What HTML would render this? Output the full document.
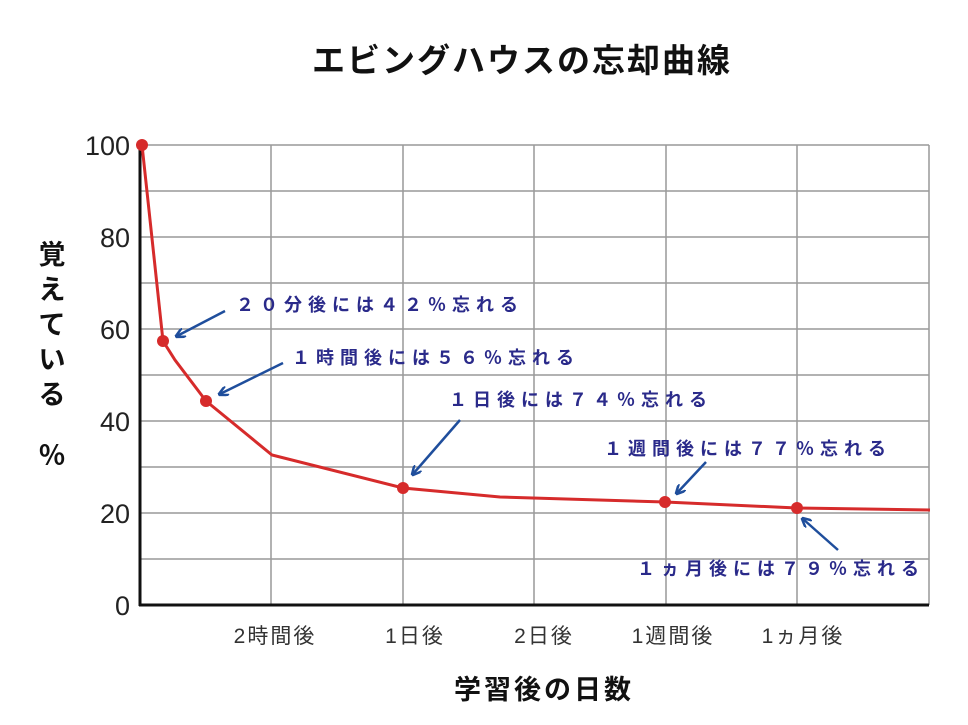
<!DOCTYPE html>
<html><head><meta charset="utf-8"><style>
body{margin:0;background:#fff;width:968px;height:720px;overflow:hidden}
svg text{font-family:"Liberation Sans","Noto Sans CJK JP",sans-serif}
</style></head><body>
<svg width="968" height="720" xmlns="http://www.w3.org/2000/svg">
<text x="522" y="72" font-size="33" font-weight="bold" text-anchor="middle" letter-spacing="2" fill="#111">エビングハウスの忘却曲線</text>
<g stroke="#999" stroke-width="1.5">
<line x1="140" y1="145" x2="929" y2="145"/><line x1="140" y1="191" x2="929" y2="191"/>
<line x1="140" y1="237" x2="929" y2="237"/><line x1="140" y1="283" x2="929" y2="283"/>
<line x1="140" y1="329" x2="929" y2="329"/><line x1="140" y1="375" x2="929" y2="375"/>
<line x1="140" y1="421" x2="929" y2="421"/><line x1="140" y1="467" x2="929" y2="467"/>
<line x1="140" y1="513" x2="929" y2="513"/><line x1="140" y1="559" x2="929" y2="559"/>
<line x1="271" y1="145" x2="271" y2="605"/><line x1="403" y1="145" x2="403" y2="605"/>
<line x1="534" y1="145" x2="534" y2="605"/><line x1="666" y1="145" x2="666" y2="605"/>
<line x1="797" y1="145" x2="797" y2="605"/><line x1="929" y1="145" x2="929" y2="605"/>
</g>
<line x1="140" y1="145" x2="140" y2="606" stroke="#111" stroke-width="3"/>
<line x1="139" y1="605" x2="929" y2="605" stroke="#111" stroke-width="3"/>
<g font-size="27" fill="#222" text-anchor="end">
<text x="130" y="155">100</text><text x="130" y="247">80</text><text x="130" y="339">60</text>
<text x="130" y="431">40</text><text x="130" y="523">20</text><text x="130" y="615">0</text>
</g>
<g font-size="21" fill="#333" text-anchor="middle" letter-spacing="2">
<text x="275" y="643">2時間後</text><text x="415" y="643">1日後</text><text x="544" y="643">2日後</text>
<text x="673" y="643">1週間後</text><text x="803" y="643">1ヵ月後</text>
</g>
<text x="544" y="699" font-size="27" font-weight="bold" text-anchor="middle" letter-spacing="3" fill="#111">学習後の日数</text>
<g font-size="27" font-weight="bold" fill="#111" text-anchor="middle">
<text x="52" y="264">覚</text><text x="52" y="299">え</text><text x="52" y="334">て</text>
<text x="52" y="369">い</text><text x="52" y="404">る</text><text x="52" y="465">％</text>
</g>
<polyline fill="none" stroke="#d62b2b" stroke-width="3" points="142,145 163,341 175,360 206,401 272,455 403,488 500,497 665,502 797,508 930,510"/>
<g fill="#d62b2b">
<circle cx="142" cy="145" r="6"/><circle cx="163" cy="341" r="6"/><circle cx="206" cy="401" r="6"/>
<circle cx="403" cy="488" r="6"/><circle cx="665" cy="502" r="6"/><circle cx="797" cy="508" r="6"/>
</g>
<defs><marker id="a" markerWidth="10" markerHeight="10" refX="8" refY="5" orient="auto" markerUnits="userSpaceOnUse"><path d="M0,0 L10,5 L0,10" fill="none" stroke="#1f4e9c" stroke-width="2.5"/></marker></defs>
<g stroke="#1f4e9c" stroke-width="2.5" marker-end="url(#a)">
<line x1="225" y1="311" x2="177" y2="336"/>
<line x1="283" y1="363" x2="220" y2="394"/>
<line x1="460" y1="420" x2="413" y2="474"/>
<line x1="706" y1="462" x2="677" y2="493"/>
<line x1="838" y1="550" x2="803" y2="519"/>
</g>
<g font-size="18" font-weight="bold" fill="#2a2a8a" letter-spacing="6">
<text x="236" y="311">２０分後には４２％忘れる</text>
<text x="292" y="364">１時間後には５６％忘れる</text>
<text x="449" y="406">１日後には７４％忘れる</text>
<text x="604" y="455">１週間後には７７％忘れる</text>
<text x="637" y="575">１ヵ月後には７９％忘れる</text>
</g>
</svg>
</body></html>
